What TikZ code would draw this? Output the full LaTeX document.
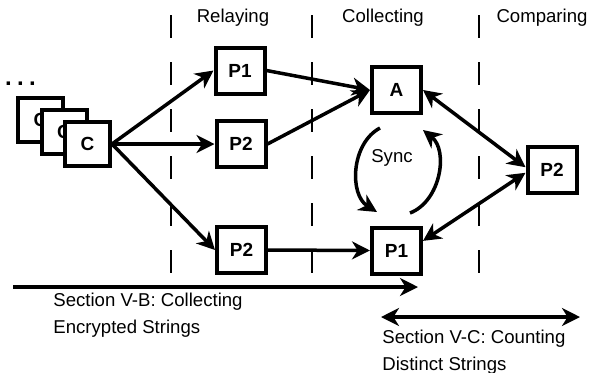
\documentclass[tikz,border=0pt]{standalone}
\usepackage{fontspec}
\setmainfont{Liberation Sans}
\usetikzlibrary{arrows.meta}

\tikzset{
	box/.style={draw, line width=2pt, fill=white, minimum width=24.5pt, minimum height=23pt, inner sep=0pt, font=\fontsize{9.5}{11}\selectfont\bfseries},
	cbox/.style={box, minimum width=22.5pt, minimum height=22pt},
	link/.style={line width=1.75pt, ->},
	lane/.style={line width=1pt, dash pattern=on 11.5pt off 12pt},
	txt/.style={inner sep=0pt, font=\fontsize{9.3}{13.5}\selectfont}
}

\begin{document}
\begin{tikzpicture}[x=0.5pt, y=-0.5pt, >={Stealth[length=9pt,width=9pt,inset=2.8pt]}]
			\useasboundingbox (0,0) rectangle (590,372);
			\foreach \x in {171,312,479}
				\draw [lane] (\x,15) -- (\x,273);
			\node [txt] (relay) at (233,18) {Relaying};
			\node [txt] (collect) at (383,18) {Collecting};
			\node [txt] (compare) at (542,18) {Comparing};

			\node [font=\fontsize{12}{12}\selectfont\bfseries, inner sep=0pt] (dots) at (20.5,84) {.\kern2.7pt.\kern2.7pt.};
			\node [cbox] (c3) at (40.5,120) {C};
			\node [cbox] (c2) at (64,132) {C};
			\node [cbox] (c1) at (87.5,144) {C};

			\node [box] (r1) at (240,70.5) {P1};
			\node [box] (r2) at (241,144) {P2};
			\node [box] (r3) at (241.5,250) {P2};
			\node [box] (a) at (396.5,90) {A};
			\node [box] (b1) at (396.5,250.5) {P1};
			\node [box] (q) at (552,170) {P2};

			\draw [link] (c1.east) -- (r1.west);
			\draw [link] (c1.east) -- (r2.west);
			\draw [link] (c1.east) -- (r3.west);
			\draw [link] (r1.east) -- (a.west);
			\draw [link] (r2.east) -- (a.west);
			\draw [link] (r3.east) -- (b1.west);
			\draw [link, <->] (a.east) -- (q.174);
			\draw [link, <->] (b1.20) -- (q.186);

			\coordinate (s1) at (380,128);
			\coordinate (s2) at (377,212);
			\coordinate (s3) at (410,213);
			\coordinate (s4) at (423,130);
			\draw [link] (s1) to [bend right=60] (s2);
			\draw [link] (s3) to [bend right=60] (s4);
			\node [txt] (sync) at (392,158) {Sync};

			\coordinate (vbs) at (13,287);
			\coordinate (vbe) at (418,287);
			\draw [link] (vbs) -- (vbe);
			\node [txt, anchor=north west, align=left] (vb) at (53,293) {Section V-B: Collecting\\Encrypted Strings};
			\coordinate (vcs) at (381,317);
			\coordinate (vce) at (580,317);
			\draw [link, <->] (vcs) -- (vce);
			\node [txt, anchor=north west, align=left] (vc) at (382,329.5) {Section V-C: Counting\\Distinct Strings};
		\end{tikzpicture}
\end{document}
